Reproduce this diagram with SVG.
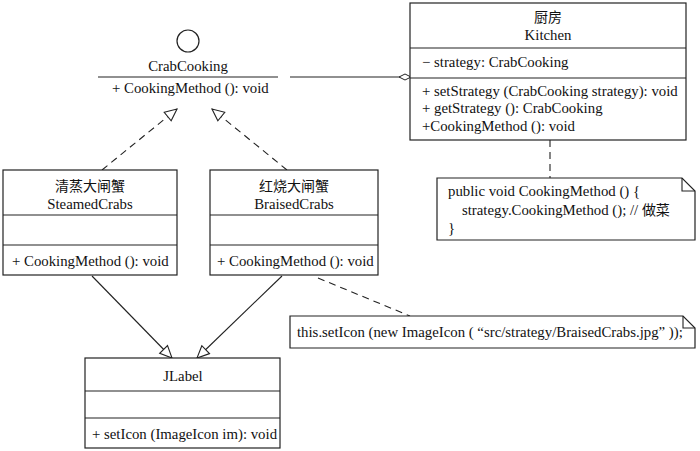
<svg xmlns="http://www.w3.org/2000/svg" width="700" height="451" viewBox="0 0 700 451">
<defs>
<style>
.t{font-family:"Liberation Serif","Noto Sans CJK SC",serif;font-size:14.8px;fill:#111}
.c{font-family:"Noto Sans CJK SC",sans-serif;font-size:14px;fill:#111}
.m{text-anchor:middle}
.b{fill:#fff;stroke:#222;stroke-width:1.2}
.l{fill:none;stroke:#222;stroke-width:1.1}
.d{fill:none;stroke:#222;stroke-width:1.1;stroke-dasharray:7 5}
</style>
<marker id="tri" viewBox="0 0 14 14" refX="13" refY="7" markerWidth="14" markerHeight="14" markerUnits="userSpaceOnUse" orient="auto">
<path d="M1,1.5 L13,7 L1,12.5 Z" fill="#fff" stroke="#222" stroke-width="1.1"/>
</marker>
<marker id="dia" viewBox="0 0 14 8" refX="13" refY="4" markerWidth="14" markerHeight="8" markerUnits="userSpaceOnUse" orient="auto">
<path d="M1,4 L7,1 L13,4 L7,7 Z" fill="#fff" stroke="#222" stroke-width="1"/>
</marker>
</defs>
<rect width="700" height="451" fill="#fff"/>
<g id="connectors">
<line class="d" x1="102" y1="170" x2="177" y2="109" marker-end="url(#tri)"/>
<line class="d" x1="287" y1="170" x2="212" y2="109" marker-end="url(#tri)"/>
<line class="l" x1="290" y1="77" x2="411" y2="77" marker-end="url(#dia)"/>
<line class="d" x1="550" y1="140" x2="550" y2="178"/>
<line class="d" x1="318" y1="278" x2="410" y2="316"/>
<line class="l" x1="92" y1="276" x2="172" y2="358" marker-end="url(#tri)"/>
<line class="l" x1="282" y1="276" x2="197" y2="358" marker-end="url(#tri)"/>
</g>
<g id="CrabCooking">
<circle cx="188" cy="41" r="11" fill="#fff" stroke="#222" stroke-width="1.2"/>
<text class="t m" x="188" y="71">CrabCooking</text>
<line class="l" x1="98" y1="77" x2="278" y2="77"/>
<text class="t" x="112" y="93">+ CookingMethod (): void</text>
</g>
<g id="Kitchen">
<rect class="b" x="410" y="3" width="276" height="137"/>
<line class="l" x1="410" y1="48" x2="686" y2="48"/>
<line class="l" x1="410" y1="78" x2="686" y2="78"/>
<text class="c m" x="548" y="22">厨房</text>
<text class="t m" x="548" y="40">Kitchen</text>
<text class="t" x="422" y="67">− strategy: CrabCooking</text>
<text class="t" x="422" y="96">+ setStrategy (CrabCooking strategy): void</text>
<text class="t" x="422" y="113">+ getStrategy (): CrabCooking</text>
<text class="t" x="422" y="131">+CookingMethod (): void</text>
</g>
<g id="note1">
<path class="b" d="M437,178 L682,178 L695,191 L695,240 L437,240 Z"/>
<path class="l" d="M682,178 L682,191 L695,191"/>
<text class="t" x="448" y="196">public void CookingMethod () {</text>
<text class="t" x="462" y="215">strategy.CookingMethod ();  // <tspan class="c" style="font-size:14px">做菜</tspan></text>
<text class="t" x="448" y="233">}</text>
</g>
<g id="SteamedCrabs">
<rect class="b" x="3" y="170" width="174" height="105"/>
<line class="l" x1="3" y1="215" x2="177" y2="215"/>
<line class="l" x1="3" y1="245" x2="177" y2="245"/>
<text class="c m" x="90" y="191">清蒸大闸蟹</text>
<text class="t m" x="90" y="209">SteamedCrabs</text>
<text class="t" x="12" y="266">+ CookingMethod (): void</text>
</g>
<g id="BraisedCrabs">
<rect class="b" x="210" y="170" width="168" height="105"/>
<line class="l" x1="210" y1="215" x2="378" y2="215"/>
<line class="l" x1="210" y1="245" x2="378" y2="245"/>
<text class="c m" x="294" y="191">红烧大闸蟹</text>
<text class="t m" x="294" y="209">BraisedCrabs</text>
<text class="t" x="217" y="266">+ CookingMethod (): void</text>
</g>
<g id="note2">
<path class="b" d="M290,316 L683,316 L695,328 L695,348 L290,348 Z"/>
<path class="l" d="M683,316 L683,328 L695,328"/>
<text class="t" x="297" y="337">this.setIcon (new ImageIcon (  “src/strategy/BraisedCrabs.jpg”  ));</text>
</g>
<g id="JLabel">
<rect class="b" x="85" y="358" width="195" height="90"/>
<line class="l" x1="85" y1="391" x2="280" y2="391"/>
<line class="l" x1="85" y1="418" x2="280" y2="418"/>
<text class="t m" x="183" y="381">JLabel</text>
<text class="t" x="92" y="439">+ setIcon (ImageIcon im): void</text>
</g>
</svg>
